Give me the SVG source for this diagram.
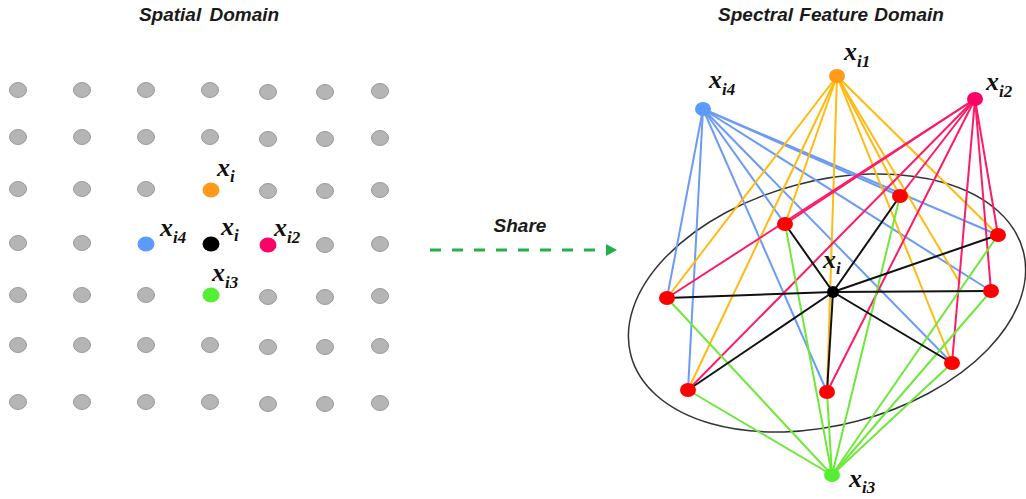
<svg xmlns="http://www.w3.org/2000/svg" width="1026" height="499" viewBox="0 0 1026 499">
<defs>
<style>
.title{font-family:"Liberation Sans",Arial,sans-serif;font-weight:bold;font-style:italic;font-size:19px;fill:#1a1a1a}
.m{font-family:"Liberation Serif","DejaVu Serif",serif;font-weight:bold;font-style:italic;font-size:26px;fill:#111}
.s{font-size:17px}
.g{fill:#b5b5b5;stroke:#9a9a9a;stroke-width:1}
.blue{stroke:#6b9bf5;stroke-width:2}
.or{stroke:#ffbb11;stroke-width:2}
.pk{stroke:#ff1a66;stroke-width:2}
.gr{stroke:#6ee83a;stroke-width:2}
.bk{stroke:#111;stroke-width:2}
.red{fill:#ff0000}
</style>
</defs>
<text class="title" x="209" y="21" text-anchor="middle" word-spacing="3">Spatial Domain</text>
<text class="title" x="831" y="21" text-anchor="middle" word-spacing="1">Spectral Feature Domain</text>

<g id="grid">
<ellipse class="g" cx="18" cy="90" rx="8.5" ry="7.5"/><ellipse class="g" cx="82" cy="90" rx="8.5" ry="7.5"/><ellipse class="g" cx="146" cy="90" rx="8.5" ry="7.5"/><ellipse class="g" cx="210" cy="90" rx="8.5" ry="7.5"/><ellipse class="g" cx="268" cy="92" rx="8.5" ry="7.5"/><ellipse class="g" cx="325" cy="92" rx="8.5" ry="7.5"/><ellipse class="g" cx="380" cy="91" rx="8.5" ry="7.5"/>
<ellipse class="g" cx="18" cy="137" rx="8.5" ry="7.5"/><ellipse class="g" cx="82" cy="137" rx="8.5" ry="7.5"/><ellipse class="g" cx="146" cy="137" rx="8.5" ry="7.5"/><ellipse class="g" cx="210" cy="137" rx="8.5" ry="7.5"/><ellipse class="g" cx="268" cy="139" rx="8.5" ry="7.5"/><ellipse class="g" cx="325" cy="139" rx="8.5" ry="7.5"/><ellipse class="g" cx="380" cy="138" rx="8.5" ry="7.5"/>
<ellipse class="g" cx="18" cy="189" rx="8.5" ry="7.5"/><ellipse class="g" cx="82" cy="189" rx="8.5" ry="7.5"/><ellipse class="g" cx="146" cy="189" rx="8.5" ry="7.5"/><ellipse class="g" cx="268" cy="191" rx="8.5" ry="7.5"/><ellipse class="g" cx="325" cy="191" rx="8.5" ry="7.5"/><ellipse class="g" cx="380" cy="190" rx="8.5" ry="7.5"/>
<ellipse class="g" cx="18" cy="243" rx="8.5" ry="7.5"/><ellipse class="g" cx="82" cy="243" rx="8.5" ry="7.5"/><ellipse class="g" cx="325" cy="245" rx="8.5" ry="7.5"/><ellipse class="g" cx="380" cy="244" rx="8.5" ry="7.5"/>
<ellipse class="g" cx="18" cy="295" rx="8.5" ry="7.5"/><ellipse class="g" cx="82" cy="295" rx="8.5" ry="7.5"/><ellipse class="g" cx="146" cy="295" rx="8.5" ry="7.5"/><ellipse class="g" cx="268" cy="297" rx="8.5" ry="7.5"/><ellipse class="g" cx="325" cy="297" rx="8.5" ry="7.5"/><ellipse class="g" cx="380" cy="296" rx="8.5" ry="7.5"/>
<ellipse class="g" cx="18" cy="345" rx="8.5" ry="7.5"/><ellipse class="g" cx="82" cy="345" rx="8.5" ry="7.5"/><ellipse class="g" cx="146" cy="345" rx="8.5" ry="7.5"/><ellipse class="g" cx="210" cy="345" rx="8.5" ry="7.5"/><ellipse class="g" cx="268" cy="347" rx="8.5" ry="7.5"/><ellipse class="g" cx="325" cy="347" rx="8.5" ry="7.5"/><ellipse class="g" cx="380" cy="346" rx="8.5" ry="7.5"/>
<ellipse class="g" cx="18" cy="402" rx="8.5" ry="7.5"/><ellipse class="g" cx="82" cy="402" rx="8.5" ry="7.5"/><ellipse class="g" cx="146" cy="402" rx="8.5" ry="7.5"/><ellipse class="g" cx="210" cy="402" rx="8.5" ry="7.5"/><ellipse class="g" cx="268" cy="404" rx="8.5" ry="7.5"/><ellipse class="g" cx="325" cy="404" rx="8.5" ry="7.5"/><ellipse class="g" cx="380" cy="403" rx="8.5" ry="7.5"/>
</g>

<g id="left-xi1"><ellipse cx="211" cy="190" rx="8.5" ry="7.5" fill="#ff9a1a"/><text class="m" x="217" y="176">x<tspan class="s" dy="6">i</tspan></text></g>
<g id="left-xi4"><ellipse cx="146" cy="244" rx="8.5" ry="7.5" fill="#5b9bff"/><text class="m" x="160" y="236">x<tspan class="s" dy="7">i4</tspan></text></g>
<g id="left-xi"><ellipse cx="211" cy="244" rx="8.5" ry="7.5" fill="#000"/><text class="m" x="221" y="235">x<tspan class="s" dy="6">i</tspan></text></g>
<g id="left-xi2"><ellipse cx="268" cy="245" rx="8.5" ry="7.5" fill="#ff0066"/><text class="m" x="274" y="236">x<tspan class="s" dy="7">i2</tspan></text></g>
<g id="left-xi3"><ellipse cx="211" cy="295" rx="8.5" ry="7.5" fill="#55ee33"/><text class="m" x="212" y="281">x<tspan class="s" dy="7">i3</tspan></text></g>

<g id="share">
<text class="title" x="520" y="232" text-anchor="middle">Share</text>
<line x1="430" y1="250" x2="602" y2="250" stroke="#22b04a" stroke-width="3" stroke-dasharray="11 11"/>
<polygon points="606,244 617,250 606,256" fill="#22b04a"/>
</g>

<ellipse id="boundary" cx="827" cy="303" rx="203" ry="122" transform="rotate(-15 827 303)" fill="none" stroke="#333" stroke-width="1.5"/>

<g id="connectors">
<g class="blue">
<line x1="703" y1="109" x2="667" y2="298"/><line x1="703" y1="109" x2="785" y2="224"/><line x1="703" y1="109" x2="900" y2="196"/><line x1="703" y1="109" x2="998" y2="235"/><line x1="703" y1="109" x2="991" y2="291"/><line x1="703" y1="109" x2="952" y2="363"/><line x1="703" y1="109" x2="827" y2="392"/><line x1="703" y1="109" x2="688" y2="390"/>
</g>
<g class="or">
<line x1="837" y1="76" x2="667" y2="298"/><line x1="837" y1="76" x2="785" y2="224"/><line x1="837" y1="76" x2="900" y2="196"/><line x1="837" y1="76" x2="998" y2="235"/><line x1="837" y1="76" x2="960" y2="283"/><line x1="837" y1="76" x2="952" y2="363"/><line x1="837" y1="76" x2="827" y2="392"/><line x1="837" y1="76" x2="688" y2="390"/>
</g>
<g class="pk">
<line x1="975" y1="99" x2="667" y2="298"/><line x1="975" y1="99" x2="785" y2="224"/><line x1="975" y1="99" x2="900" y2="196"/><line x1="975" y1="99" x2="998" y2="235"/><line x1="975" y1="99" x2="991" y2="291"/><line x1="975" y1="99" x2="952" y2="363"/><line x1="975" y1="99" x2="827" y2="392"/><line x1="975" y1="99" x2="688" y2="390"/>
</g>
<g class="gr">
<line x1="832" y1="475" x2="667" y2="298"/><line x1="832" y1="475" x2="785" y2="224"/><line x1="832" y1="475" x2="900" y2="196"/><line x1="832" y1="475" x2="998" y2="235"/><line x1="832" y1="475" x2="991" y2="291"/><line x1="832" y1="475" x2="952" y2="363"/><line x1="832" y1="475" x2="827" y2="392"/><line x1="832" y1="475" x2="688" y2="390"/>
</g>
<g class="bk">
<line x1="833" y1="292" x2="667" y2="298"/><line x1="833" y1="292" x2="785" y2="224"/><line x1="833" y1="292" x2="900" y2="196"/><line x1="833" y1="292" x2="998" y2="235"/><line x1="833" y1="292" x2="991" y2="291"/><line x1="833" y1="292" x2="952" y2="363"/><line x1="833" y1="292" x2="827" y2="392"/><line x1="833" y1="292" x2="688" y2="390"/>
</g>
</g>

<g id="n-r1"><ellipse class="red" cx="667" cy="298" rx="8" ry="7"/></g>
<g id="n-r2"><ellipse class="red" cx="785" cy="224" rx="8" ry="7"/></g>
<g id="n-r3"><ellipse class="red" cx="900" cy="196" rx="8" ry="7"/></g>
<g id="n-r4"><ellipse class="red" cx="998" cy="235" rx="8" ry="7"/></g>
<g id="n-r5"><ellipse class="red" cx="991" cy="291" rx="8" ry="7"/></g>
<g id="n-r6"><ellipse class="red" cx="952" cy="363" rx="8" ry="7"/></g>
<g id="n-r7"><ellipse class="red" cx="827" cy="392" rx="8" ry="7"/></g>
<g id="n-r8"><ellipse class="red" cx="688" cy="390" rx="8" ry="7"/></g>
<g id="n-center"><circle cx="833" cy="292" r="6" fill="#000"/><text class="m" x="823" y="268">x<tspan class="s" dy="6">i</tspan></text></g>
<g id="n-xi4"><ellipse cx="703" cy="109" rx="8" ry="7" fill="#5b9bff"/><text class="m" x="709" y="88">x<tspan class="s" dy="7">i4</tspan></text></g>
<g id="n-xi1"><ellipse cx="837" cy="76" rx="8" ry="7" fill="#ff9a1a"/><text class="m" x="844" y="60">x<tspan class="s" dy="7">i1</tspan></text></g>
<g id="n-xi2"><ellipse cx="975" cy="99" rx="8" ry="7" fill="#ff0066"/><text class="m" x="986" y="90">x<tspan class="s" dy="7">i2</tspan></text></g>
<g id="n-xi3"><ellipse cx="832" cy="475" rx="8" ry="7" fill="#55ee33"/><text class="m" x="849" y="487">x<tspan class="s" dy="6">i3</tspan></text></g>
</svg>
